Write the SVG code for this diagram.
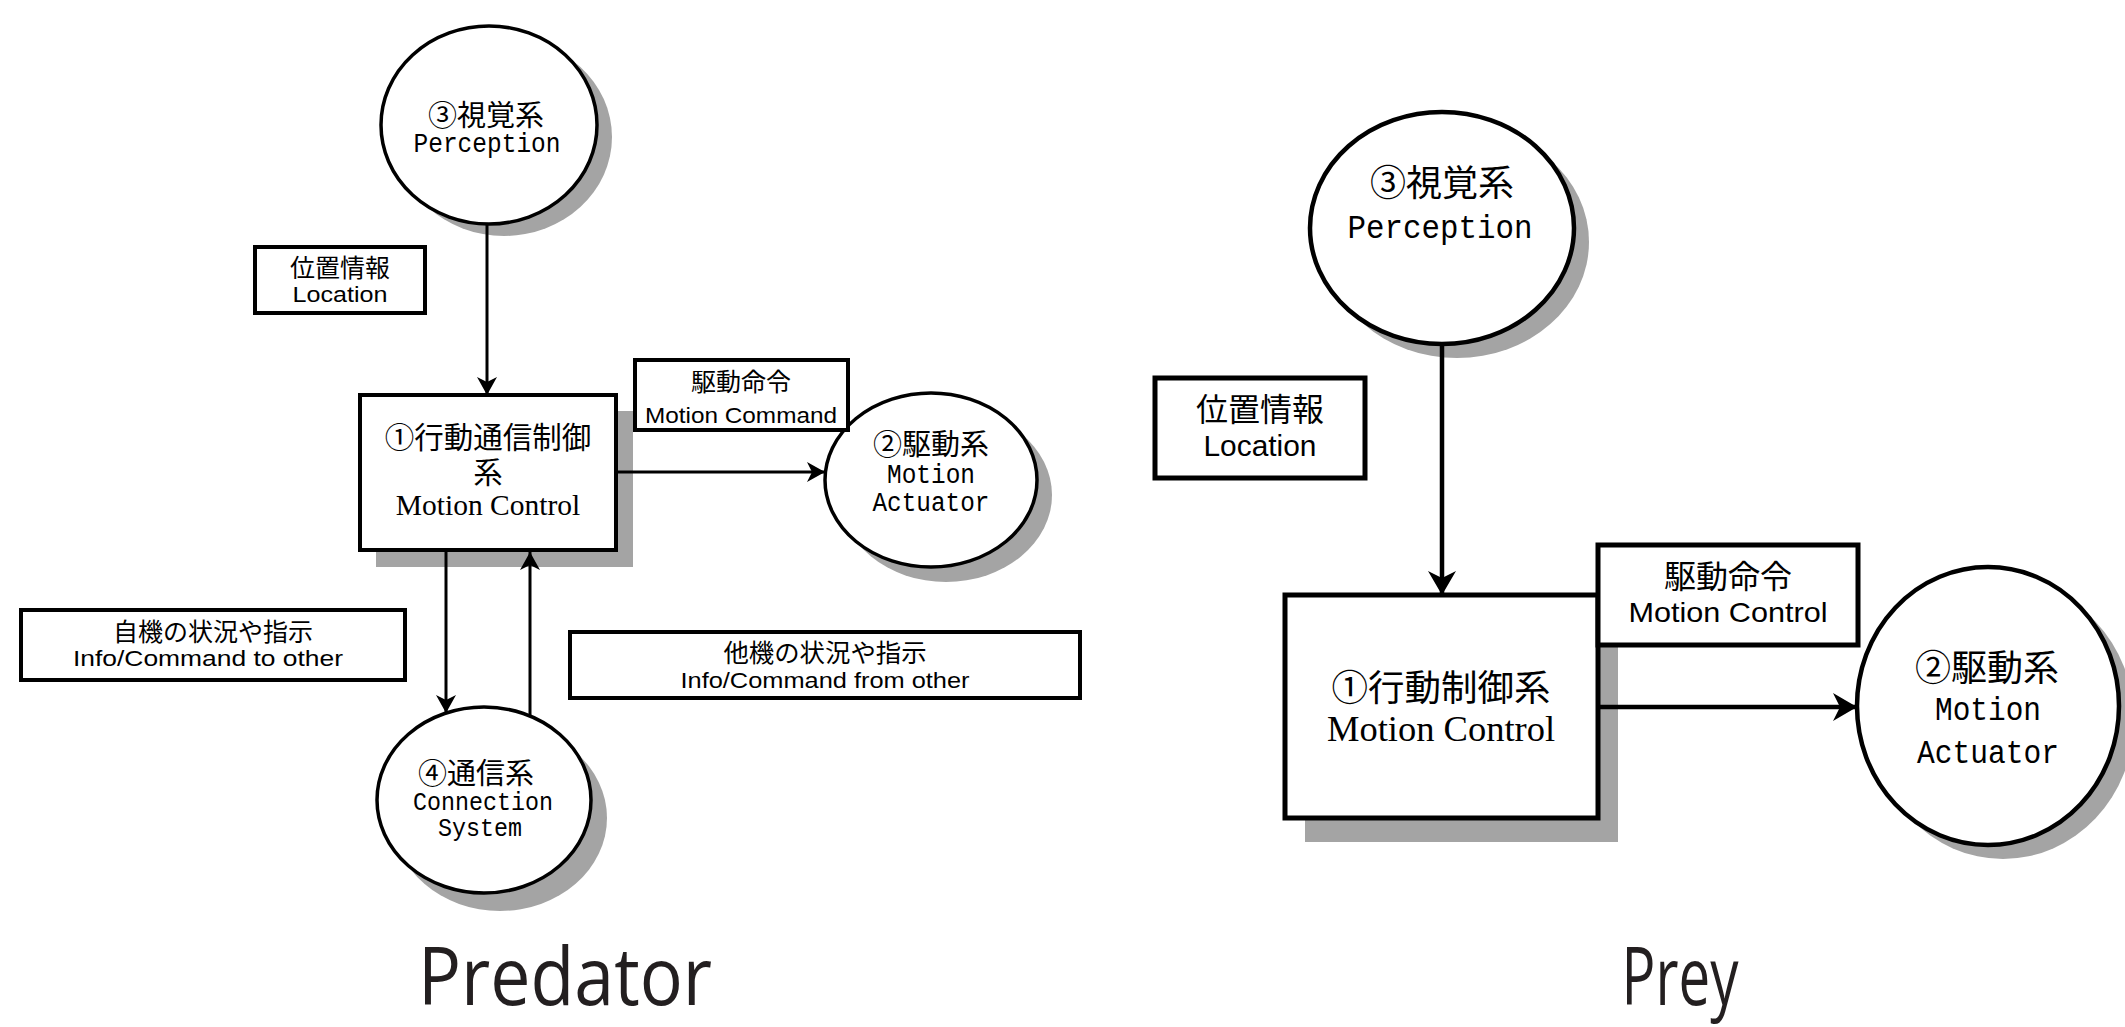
<svg xmlns="http://www.w3.org/2000/svg" width="2125" height="1027" viewBox="0 0 2125 1027">
<style>
.bg{fill:#fff}
.shadow{fill:#a4a4a4}
.node{fill:#fff;stroke:#000}
.s{stroke-width:3.5}
.l{stroke-width:5}
.conn{stroke:#000;fill:none}
text{text-anchor:middle;fill:#000}
.jp{font-family:"Noto Sans CJK JP",sans-serif}
.mono{font-family:"Liberation Mono","Noto Sans CJK JP",monospace}
.serif{font-family:"Liberation Serif","Noto Serif CJK JP",serif}
.sans{font-family:"Liberation Sans","Noto Sans CJK JP",sans-serif}
.title{font-family:"Open Sans","Noto Sans",sans-serif;fill:#231f20}
</style>
<defs>
<marker id="arrS" markerUnits="userSpaceOnUse" markerWidth="18" markerHeight="20" viewBox="0 0 18 20" refX="18" refY="10" orient="auto">
<path d="M0,0 L18,10 L0,20 L5,10 z" fill="#000"/>
</marker>
<marker id="arrL" markerUnits="userSpaceOnUse" markerWidth="24" markerHeight="28" viewBox="0 0 24 28" refX="24" refY="14" orient="auto">
<path d="M0,0 L24,14 L0,28 L7,14 z" fill="#000"/>
</marker>
</defs>
<rect class="bg" x="0" y="0" width="2125" height="1027"/>

<!-- Predator -->
<g id="pred-perception">
<ellipse class="shadow" cx="504" cy="137" rx="108" ry="99"/>
<ellipse class="node s" cx="489" cy="125" rx="108" ry="99"/>
<text class="jp" x="486" y="126" font-size="29">③視覚系</text>
<text class="mono" x="487" y="152" font-size="27" textLength="147" lengthAdjust="spacingAndGlyphs">Perception</text>
</g>
<g id="pred-control">
<rect class="shadow" x="376" y="411" width="257" height="156"/>
<rect class="node" stroke-width="4" x="360" y="395" width="256" height="155"/>
<text class="jp" x="488" y="448" font-size="29.5">①行動通信制御</text>
<text class="jp" x="488" y="483" font-size="29.5">系</text>
<text class="serif" x="488" y="515" font-size="29.5">Motion Control</text>
</g>
<g id="pred-actuator">
<ellipse class="shadow" cx="946" cy="495" rx="106" ry="87"/>
<ellipse class="node s" cx="931" cy="480" rx="106" ry="87"/>
<text class="jp" x="931" y="455" font-size="29">②駆動系</text>
<text class="mono" x="931" y="483" font-size="27" textLength="88" lengthAdjust="spacingAndGlyphs">Motion</text>
<text class="mono" x="931" y="511" font-size="27" textLength="117" lengthAdjust="spacingAndGlyphs">Actuator</text>
</g>
<g id="pred-connection">
<ellipse class="shadow" cx="500" cy="818" rx="107" ry="93"/>
<ellipse class="node s" cx="484" cy="800" rx="107" ry="93"/>
<text class="jp" x="476" y="784" font-size="29">④通信系</text>
<text class="mono" x="483" y="810" font-size="26" textLength="140" lengthAdjust="spacingAndGlyphs">Connection</text>
<text class="mono" x="480" y="836" font-size="26" textLength="84" lengthAdjust="spacingAndGlyphs">System</text>
</g>

<g id="pred-connectors">
<line class="conn" stroke-width="3" x1="487" y1="224" x2="487" y2="395" marker-end="url(#arrS)"/>
<line class="conn" stroke-width="3" x1="618" y1="472" x2="825" y2="472" marker-end="url(#arrS)"/>
<line class="conn" stroke-width="3" x1="446" y1="552" x2="446" y2="713" marker-end="url(#arrS)"/>
<line class="conn" stroke-width="3" x1="530" y1="715" x2="530" y2="552" marker-end="url(#arrS)"/>
</g>

<g id="pred-label-location">
<rect class="node" stroke-width="4" x="255" y="247" width="170" height="66"/>
<text class="jp" x="340" y="277" font-size="25">位置情報</text>
<text class="sans" x="340" y="302" font-size="22" textLength="95" lengthAdjust="spacingAndGlyphs">Location</text>
</g>
<g id="pred-label-command">
<rect class="node" stroke-width="4" x="635" y="360" width="213" height="70"/>
<text class="jp" x="741" y="391" font-size="25">駆動命令</text>
<text class="sans" x="741" y="423" font-size="22" textLength="192" lengthAdjust="spacingAndGlyphs">Motion Command</text>
</g>
<g id="pred-label-to-other">
<rect class="node" stroke-width="4" x="21" y="610" width="384" height="70"/>
<text class="jp" x="213" y="641" font-size="25">自機の状況や指示</text>
<text class="sans" x="208" y="666" font-size="22" textLength="270" lengthAdjust="spacingAndGlyphs">Info/Command to other</text>
</g>
<g id="pred-label-from-other">
<rect class="node" stroke-width="4" x="570" y="632" width="510" height="66"/>
<text class="jp" x="825" y="662" font-size="25.4">他機の状況や指示</text>
<text class="sans" x="825" y="688" font-size="22" textLength="289" lengthAdjust="spacingAndGlyphs">Info/Command from other</text>
</g>

<!-- Prey -->
<g id="prey-perception">
<ellipse class="shadow" cx="1457" cy="242" rx="132" ry="116"/>
<ellipse class="node" stroke-width="4.5" cx="1442" cy="228" rx="132" ry="116"/>
<text class="jp" x="1442" y="196" font-size="36">③視覚系</text>
<text class="mono" x="1440" y="238" font-size="34" textLength="185" lengthAdjust="spacingAndGlyphs">Perception</text>
</g>
<g id="prey-control">
<rect class="shadow" x="1305" y="619" width="313" height="223"/>
<rect class="node l" x="1285" y="595" width="313" height="223"/>
<text class="jp" x="1441" y="701" font-size="36.5">①行動制御系</text>
<text class="serif" x="1441" y="741" font-size="36.5">Motion Control</text>
</g>
<g id="prey-actuator">
<ellipse class="shadow" cx="2003" cy="720" rx="131" ry="139"/>
<ellipse class="node" stroke-width="4.5" cx="1988" cy="706" rx="131" ry="139"/>
<text class="jp" x="1987" y="681" font-size="36">②駆動系</text>
<text class="mono" x="1988" y="720" font-size="33" textLength="106" lengthAdjust="spacingAndGlyphs">Motion</text>
<text class="mono" x="1988" y="763" font-size="33" textLength="142" lengthAdjust="spacingAndGlyphs">Actuator</text>
</g>

<g id="prey-connectors">
<line class="conn" stroke-width="4.5" x1="1442" y1="345" x2="1442" y2="595" marker-end="url(#arrL)"/>
<line class="conn" stroke-width="4.5" x1="1600" y1="707" x2="1857" y2="707" marker-end="url(#arrL)"/>
</g>

<g id="prey-label-location">
<rect class="node l" x="1155" y="378" width="210" height="100"/>
<text class="jp" x="1260" y="421" font-size="32">位置情報</text>
<text class="sans" x="1260" y="456" font-size="30" textLength="113" lengthAdjust="spacingAndGlyphs">Location</text>
</g>
<g id="prey-label-command">
<rect class="node l" x="1598" y="545" width="260" height="100"/>
<text class="jp" x="1728" y="588" font-size="32">駆動命令</text>
<text class="sans" x="1728" y="622" font-size="28" textLength="199" lengthAdjust="spacingAndGlyphs">Motion Control</text>
</g>

<g id="titles">
<text class="title" x="565" y="1005" font-size="80" textLength="294" lengthAdjust="spacingAndGlyphs">Predator</text>
<text class="title" x="1680" y="1005" font-size="80" textLength="117" lengthAdjust="spacingAndGlyphs">Prey</text>
</g>
</svg>
